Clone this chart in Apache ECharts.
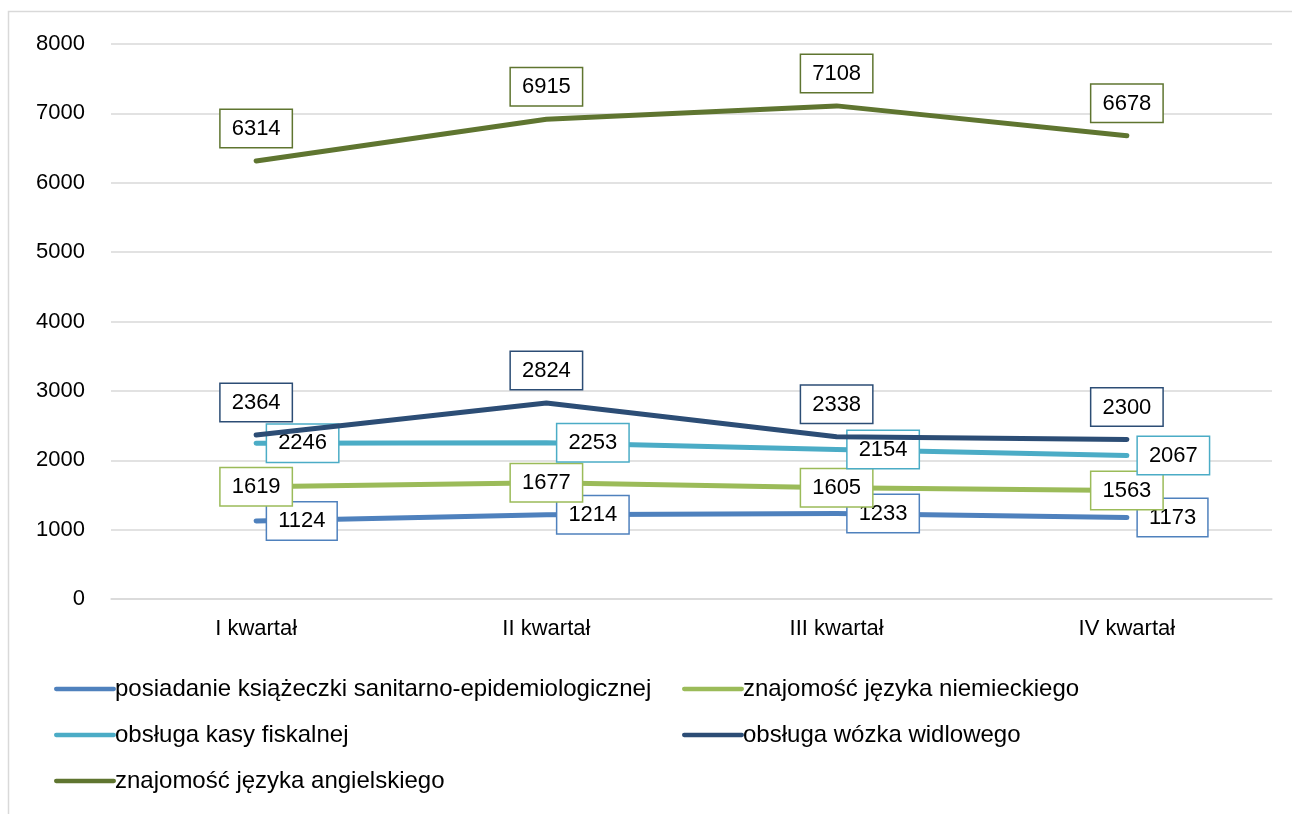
<!DOCTYPE html>
<html>
<head>
<meta charset="utf-8">
<script src="https://cdn.jsdelivr.net/npm/echarts@6/dist/echarts.min.js"></script>
<style>
html,body{margin:0;padding:0;background:#fff;}
#chart-container{width:1292px;height:814px;}
</style>
</head>
<body>
<div id="chart-container"></div>
<script>
var categories = ['I kwartał', 'II kwartał', 'III kwartał', 'IV kwartał'];
var seriesNames = [
    'posiadanie książeczki sanitarno-epidemiologicznej',
    'znajomość języka niemieckiego',
    'obsługa kasy fiskalnej',
    'obsługa wózka widlowego',
    'znajomość języka angielskiego'
];
var sanitarne = [1124, 1214, 1233, 1173];
var niemiecki = [1619, 1677, 1605, 1563];
var kasa = [2246, 2253, 2154, 2067];
var wozek = [2364, 2824, 2338, 2300];
var angielski = [6314, 6915, 7108, 6678];
var yTicks = [0, 1000, 2000, 3000, 4000, 5000, 6000, 7000, 8000];

var colors = ['#4f81bd', '#9bbb59', '#4bacc6', '#2c4d75', '#5f7530'];
var values = [sanitarne, niemiecki, kasa, wozek, angielski];
// label placement per series, like in the original chart
var labelPos = ['right', 'inside', 'right', 'top', 'top'];
var labelDist = [11, 0, 11, 14, 14];

var font = '"Liberation Sans", Arial, sans-serif';

var series = values.map(function (data, i) {
    return {
        type: 'line',
        name: seriesNames[i],
        data: data,
        color: colors[i],
        symbol: 'circle',
        symbolSize: 0,
        showSymbol: true,
        lineStyle: {width: 5, cap: 'round', join: 'round'},
        z: 2 + i,
        label: {
            show: true,
            position: labelPos[i],
            distance: labelDist[i],
            fontFamily: font,
            fontSize: 22,
            lineHeight: 22,
            color: '#000',
            backgroundColor: '#fff',
            borderColor: colors[i],
            borderWidth: 1.5,
            padding: [8, 11, 7, 11]
        }
    };
});

// legend: two columns, three rows
var legendPos = [[49, 672], [677, 672], [49, 718], [677, 718], [49, 764]];
var legends = seriesNames.map(function (name, i) {
    return {
        data: [name],
        left: legendPos[i][0],
        top: legendPos[i][1],
        icon: 'path://M2,0 L56,0 A2,2 0 0 1 56,4 L2,4 A2,2 0 0 1 2,0 Z',
        itemWidth: 62,
        itemHeight: 5,
        itemGap: 0,
        textStyle: {fontFamily: font, fontSize: 24, color: '#000', padding: [0, 0, 0, -6]}
    };
});

var option = {
    backgroundColor: '#fff',
    animation: false,
    graphic: [{
        type: 'rect',
        shape: {x: 8.5, y: 11.5, width: 1300, height: 820},
        style: {fill: 'none', stroke: '#d9d9d9', lineWidth: 1.5},
        silent: true
    }],
    grid: {left: 111, right: 20, top: 44, bottom: 215},
    legend: legends,
    xAxis: {
        type: 'category',
        data: categories,
        boundaryGap: true,
        axisLine: {lineStyle: {color: '#d9d9d9', width: 1.5}},
        axisTick: {show: false},
        axisLabel: {fontFamily: font, fontSize: 22, color: '#000', margin: 19}
    },
    yAxis: {
        type: 'value',
        min: yTicks[0],
        max: yTicks[yTicks.length - 1],
        interval: 1000,
        axisLine: {show: false},
        axisTick: {show: false},
        axisLabel: {
            fontFamily: font, fontSize: 22, color: '#000', margin: 26,
            formatter: function (v) { return String(v); }
        },
        splitLine: {lineStyle: {color: '#d9d9d9', width: 1.5}}
    },
    series: series
};

var myChart = echarts.init(document.getElementById('chart-container'));
myChart.setOption(option);
</script>
</body>
</html>
